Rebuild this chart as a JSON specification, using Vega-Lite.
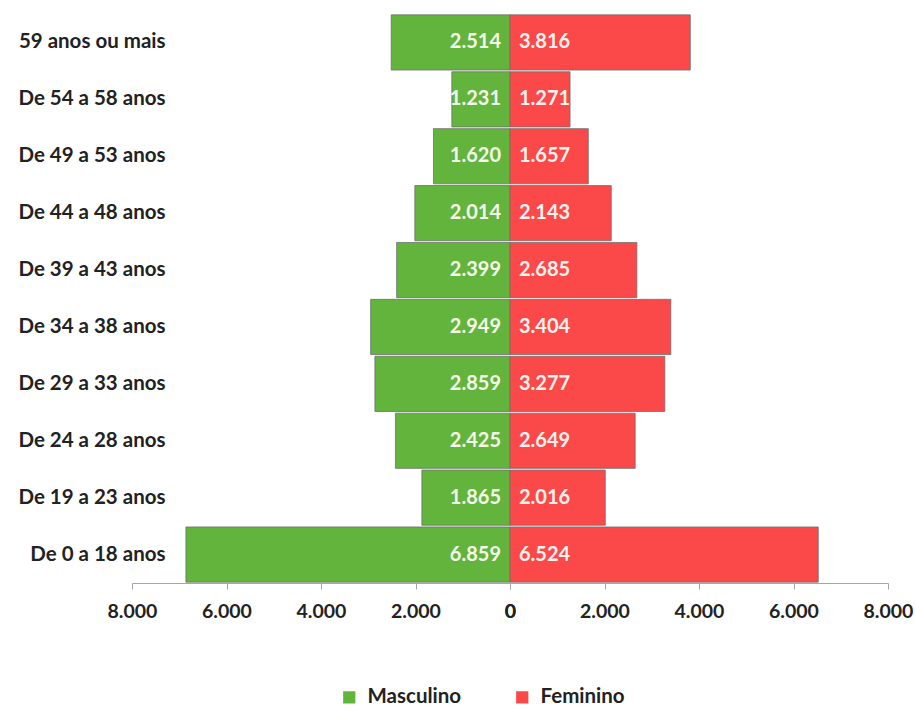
{
  "$schema": "https://vega.github.io/schema/vega-lite/v6.json",
  "width": 756,
  "height": 569,
  "autosize": {"type": "none"},
  "padding": {"left": 132, "top": 14, "right": 27, "bottom": 127},
  "background": "white",
  "config": {
    "view": {"stroke": null},
    "locale": {"number": {"decimal": ",", "thousands": ".", "grouping": [3], "currency": ["R$", ""]}},
    "font": "Lato"
  },
  "data": {
    "values": [
      {"idade": "59 anos ou mais", "sexo": "Masculino", "valor": 2514},
      {"idade": "De 54 a 58 anos", "sexo": "Masculino", "valor": 1231},
      {"idade": "De 49 a 53 anos", "sexo": "Masculino", "valor": 1620},
      {"idade": "De 44 a 48 anos", "sexo": "Masculino", "valor": 2014},
      {"idade": "De 39 a 43 anos", "sexo": "Masculino", "valor": 2399},
      {"idade": "De 34 a 38 anos", "sexo": "Masculino", "valor": 2949},
      {"idade": "De 29 a 33 anos", "sexo": "Masculino", "valor": 2859},
      {"idade": "De 24 a 28 anos", "sexo": "Masculino", "valor": 2425},
      {"idade": "De 19 a 23 anos", "sexo": "Masculino", "valor": 1865},
      {"idade": "De 0 a 18 anos", "sexo": "Masculino", "valor": 6859},
      {"idade": "59 anos ou mais", "sexo": "Feminino", "valor": 3816},
      {"idade": "De 54 a 58 anos", "sexo": "Feminino", "valor": 1271},
      {"idade": "De 49 a 53 anos", "sexo": "Feminino", "valor": 1657},
      {"idade": "De 44 a 48 anos", "sexo": "Feminino", "valor": 2143},
      {"idade": "De 39 a 43 anos", "sexo": "Feminino", "valor": 2685},
      {"idade": "De 34 a 38 anos", "sexo": "Feminino", "valor": 3404},
      {"idade": "De 29 a 33 anos", "sexo": "Feminino", "valor": 3277},
      {"idade": "De 24 a 28 anos", "sexo": "Feminino", "valor": 2649},
      {"idade": "De 19 a 23 anos", "sexo": "Feminino", "valor": 2016},
      {"idade": "De 0 a 18 anos", "sexo": "Feminino", "valor": 6524}
    ]
  },
  "encoding": {
    "y": {
      "field": "idade",
      "type": "nominal",
      "sort": ["59 anos ou mais", "De 54 a 58 anos", "De 49 a 53 anos", "De 44 a 48 anos", "De 39 a 43 anos", "De 34 a 38 anos", "De 29 a 33 anos", "De 24 a 28 anos", "De 19 a 23 anos", "De 0 a 18 anos"],
      "scale": {"paddingInner": 0.03, "paddingOuter": 0.015},
      "axis": {"title": null, "domain": false, "ticks": false, "offset": -33, "labelPadding": 0, "labelFontSize": 20.5, "labelFontWeight": "bold", "labelColor": "#222222"}
    }
  },
  "layer": [
    {
      "transform": [{"filter": "datum.sexo === 'Masculino'"}],
      "mark": {"type": "bar", "stroke": "#707070", "strokeWidth": 0.8},
      "encoding": {
        "x": {"field": "valor", "type": "quantitative", "scale": {"domain": [0, 8000], "range": [0, 378], "reverse": true},
          "axis": {"orient": "bottom", "values": [0, 2000, 4000, 6000, 8000], "format": ",d", "title": null, "grid": false, "labelFlush": false, "domainColor": "#a6a6a6", "tickColor": "#a6a6a6", "tickSize": 6, "labelFontSize": 19.5, "labelFontWeight": "bold", "labelColor": "#222222", "labelPadding": 13}},
        "color": {"field": "sexo", "type": "nominal", "scale": {"domain": ["Masculino", "Feminino"], "range": ["#62b43c", "#fb4848"]},
          "legend": {"orient": "none", "legendX": 207, "legendY": 673, "direction": "horizontal", "title": null, "symbolType": "square", "symbolSize": 150, "symbolStrokeWidth": 0, "labelFontSize": 20.5, "labelFontWeight": "bold", "labelColor": "#222222", "columnPadding": 50, "labelOffset": 8}}
      }
    },
    {
      "transform": [{"filter": "datum.sexo === 'Masculino'"}],
      "mark": {"type": "text", "align": "right", "baseline": "middle", "dx": -9, "fontSize": 20, "fontWeight": "bold", "color": "#f5fbea"},
      "encoding": {
        "x": {"datum": 0, "type": "quantitative", "scale": {"domain": [0, 8000], "range": [0, 378], "reverse": true}, "axis": null},
        "text": {"field": "valor", "type": "quantitative", "format": ",d"}
      }
    },
    {
      "transform": [{"filter": "datum.sexo === 'Feminino'"}],
      "mark": {"type": "bar", "stroke": "#707070", "strokeWidth": 0.8},
      "encoding": {
        "x": {"field": "valor", "type": "quantitative", "scale": {"domain": [0, 8000], "range": [378, 756]},
          "axis": {"orient": "bottom", "values": [0, 2000, 4000, 6000, 8000], "format": ",d", "title": null, "grid": false, "labelFlush": false, "domainColor": "#a6a6a6", "tickColor": "#a6a6a6", "tickSize": 6, "labelFontSize": 19.5, "labelFontWeight": "bold", "labelColor": "#222222", "labelPadding": 13}},
        "color": {"field": "sexo", "type": "nominal", "scale": {"domain": ["Masculino", "Feminino"], "range": ["#62b43c", "#fb4848"]},
          "legend": {"orient": "none", "legendX": 207, "legendY": 673, "direction": "horizontal", "title": null, "symbolType": "square", "symbolSize": 150, "symbolStrokeWidth": 0, "labelFontSize": 20.5, "labelFontWeight": "bold", "labelColor": "#222222", "columnPadding": 50, "labelOffset": 8}}
      }
    },
    {
      "transform": [{"filter": "datum.sexo === 'Feminino'"}],
      "mark": {"type": "text", "align": "left", "baseline": "middle", "dx": 9, "fontSize": 20, "fontWeight": "bold", "color": "#fff3f0"},
      "encoding": {
        "x": {"datum": 0, "type": "quantitative", "scale": {"domain": [0, 8000], "range": [378, 756]}, "axis": null},
        "text": {"field": "valor", "type": "quantitative", "format": ",d"}
      }
    }
  ],
  "resolve": {"scale": {"x": "independent"}, "axis": {"x": "independent"}}
}
